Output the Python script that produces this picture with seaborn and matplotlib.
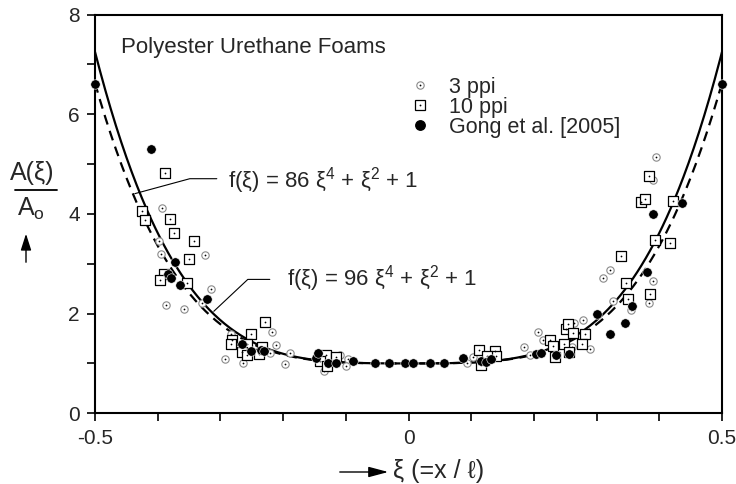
import numpy as np
import pandas as pd
import matplotlib
matplotlib.use("Agg")
import matplotlib.pyplot as plt
import seaborn as sns
from matplotlib.legend_handler import HandlerTuple
from matplotlib.lines import Line2D

# ---------------- data ----------------
ppi3_x = [-0.393, -0.398, -0.394, -0.325, -0.315, -0.329, -0.386, -0.358, -0.218, -0.283,
          -0.211, -0.221, -0.189, -0.293, -0.264, -0.197, -0.110, -0.134, -0.096, -0.099,
          -0.120, 0.103, 0.093, 0.185, 0.193, 0.207, 0.215, 0.260, 0.264, 0.290, 0.278,
          0.326, 0.355, 0.383, 0.390, 0.311, 0.321, 0.390, 0.394]
ppi3_y = [4.12, 3.45, 3.19, 3.17, 2.49, 2.21, 2.17, 2.10, 1.63, 1.59,
          1.38, 1.21, 1.21, 1.09, 1.01, 0.99, 1.17, 0.85, 1.08, 0.95,
          1.02, 1.12, 1.01, 1.32, 1.17, 1.63, 1.47, 1.33, 1.81, 1.29, 1.87,
          2.25, 2.07, 2.22, 2.65, 2.72, 2.88, 4.68, 5.15]

ppi10_x = [-0.388, -0.425, -0.420, -0.380, -0.374, -0.342, -0.350, -0.390, -0.396, -0.353,
           -0.229, -0.251, -0.282, -0.283, -0.258, -0.234, -0.265, -0.258, -0.238, -0.131,
           -0.141, -0.116, -0.130, 0.113, 0.138, 0.140, 0.125, 0.116, 0.226, 0.231,
           0.234, 0.248, 0.256, 0.251, 0.255, 0.263, 0.282, 0.277, 0.339, 0.347,
           0.350, 0.385, 0.393, 0.417, 0.371, 0.377, 0.422, 0.384]
ppi10_y = [4.82, 4.05, 3.88, 3.90, 3.61, 3.46, 3.10, 2.80, 2.67, 2.61,
           1.84, 1.60, 1.47, 1.39, 1.40, 1.32, 1.22, 1.16, 1.19, 1.17,
           1.05, 1.12, 0.95, 1.27, 1.25, 1.15, 1.15, 0.97, 1.48, 1.36,
           1.12, 1.39, 1.23, 1.70, 1.79, 1.62, 1.60, 1.39, 3.16, 2.62,
           2.30, 2.40, 3.48, 3.42, 4.23, 4.30, 4.25, 4.77]

gong_x = [-0.5, -0.411, -0.372, -0.383, -0.379, -0.364, -0.322, -0.265, -0.251, -0.235,
          -0.231, -0.148, -0.144, -0.128, -0.116, -0.088, -0.054, -0.031, -0.006, 0.007,
          0.034, 0.056, 0.087, 0.116, 0.124, 0.132, 0.203, 0.211, 0.236, 0.256,
          0.301, 0.321, 0.346, 0.357, 0.380, 0.390, 0.437, 0.5]
gong_y = [6.60, 5.31, 3.03, 2.80, 2.71, 2.57, 2.30, 1.40, 1.25, 1.27,
          1.24, 1.10, 1.21, 1.00, 1.01, 1.05, 1.00, 1.00, 1.00, 1.00,
          1.00, 1.00, 1.10, 1.05, 1.03, 1.08, 1.18, 1.21, 1.17, 1.19,
          2.00, 1.60, 1.82, 2.15, 2.83, 4.00, 4.21, 6.60]

fit_coef = [86, 96]            # f(xi) = c xi^4 + xi^2 + 1
fit_labels = ["f(ξ) = 86 ξ$\\mathregular{^4}$ + ξ$\\mathregular{^2}$ + 1",
              "f(ξ) = 96 ξ$\\mathregular{^4}$ + ξ$\\mathregular{^2}$ + 1"]
series_labels = ["3 ppi", "10 ppi", "Gong et al. [2005]"]
x_ticks = [-0.5, 0, 0.5]
x_ticklabels = ["-0.5", "0", "0.5"]
y_ticks = [0, 2, 4, 6, 8]

# ---------------- style ----------------
sns.set_theme(style="white")
plt.rcParams["font.family"] = ["Liberation Sans", "DejaVu Sans"]
plt.rcParams["mathtext.fontset"] = "custom"
plt.rcParams["mathtext.rm"] = "Liberation Sans"
plt.rcParams["mathtext.it"] = "Liberation Sans:italic"

fig = plt.figure(figsize=(7.36, 4.84), dpi=100)
W, H = 736, 484
ax = fig.add_axes([95 / W, 1 - 413.3 / H, 627 / W, (413.3 - 14.5) / H])

# ---------------- curves ----------------
xi = np.linspace(-0.5, 0.5, 601)
df86 = pd.DataFrame({"xi": xi, "f": fit_coef[0] * xi**4 + xi**2 + 1})
df96 = pd.DataFrame({"xi": xi, "f": fit_coef[1] * xi**4 + xi**2 + 1})
sns.lineplot(data=df96, x="xi", y="f", ax=ax, color="black", lw=1.6, sort=False, zorder=2)
sns.lineplot(data=df86, x="xi", y="f", ax=ax, color="black", lw=1.6, sort=False, zorder=2)
ax.lines[-1].set_dashes([4.5, 3])

# ---------------- points ----------------
ncol = len(ax.collections)
sns.scatterplot(x=ppi3_x, y=ppi3_y, ax=ax, marker="o", s=28, color="white",
                edgecolor="#8a8a8a", linewidth=0.8, zorder=3)
sns.scatterplot(x=ppi3_x, y=ppi3_y, ax=ax, marker="o", s=1.6, color="black",
                linewidth=0, zorder=3.1)
sns.scatterplot(x=ppi10_x, y=ppi10_y, ax=ax, marker="s", s=52, color="white",
                edgecolor="black", linewidth=0.9, zorder=4)
sns.scatterplot(x=ppi10_x, y=ppi10_y, ax=ax, marker="o", s=1.6, color="black",
                linewidth=0, zorder=4.1)
sns.scatterplot(x=gong_x, y=gong_y, ax=ax, marker="o", s=46, color="black",
                edgecolor="white", linewidth=0.4, zorder=5)
cols = ax.collections[ncol:]
for c in cols:
    c.set_clip_on(False)

dot = dict(marker="o", ms=1.3, color="black", ls="", mew=0)
h3 = (Line2D([], [], marker="o", ms=5.3, mfc="white", mec="#8a8a8a", mew=0.8, ls=""),
      Line2D([], [], **dot))
h10 = (Line2D([], [], marker="s", ms=7.2, mfc="white", mec="black", mew=0.9, ls=""),
       Line2D([], [], **dot))
hg = (Line2D([], [], marker="o", ms=6.8, mfc="black", mec="black", ls=""),)
leg = ax.legend([h3, h10, hg], series_labels,
                handler_map={tuple: HandlerTuple(ndivide=1, pad=0)},
                loc="upper left", bbox_to_anchor=((409 - 95) / 627, 1 - (77 - 14.5) / 399),
                frameon=False, fontsize=15.5, handlelength=1.0, handletextpad=0.85,
                labelspacing=-0.05, borderpad=0, borderaxespad=0, numpoints=1)

# ---------------- axes ----------------
ax.set_xlim(-0.5, 0.5)
ax.set_ylim(0, 8)
ax.set_xticks(x_ticks)
ax.set_xticklabels(x_ticklabels)
ax.set_xticks([-0.4, -0.3, -0.2, -0.1, 0.1, 0.2, 0.3, 0.4], minor=True)
ax.set_yticks(y_ticks)
ax.set_yticks([1, 3, 5, 7], minor=True)
ax.tick_params(which="both", direction="out", length=6, width=1.2, color="black",
               bottom=True, left=True, top=False, right=False)
ax.tick_params(which="major", labelsize=15, pad=5)
for s in ax.spines.values():
    s.set_visible(True)
    s.set_color("black")
    s.set_linewidth(1.5)
ax.set_xlabel("")
ax.set_ylabel("")
ax.grid(False)


def px(xp, yp):
    return ((xp - 408.7) / 627, (413.3 - yp) / 50)


# title
tx, ty = px(121, 46)
ax.text(tx, ty, "Polyester Urethane Foams", fontsize=16, ha="left", va="center")

# fit labels with pointer lines
for (lx, ly), lab, pts in [((228, 180), fit_labels[0], [(135, 193), (190, 178), (217, 178)]),
                           ((287, 278), fit_labels[1], [(214, 311), (248, 279), (270, 279)])]:
    x0, y0 = px(lx, ly)
    ax.text(x0, y0, lab, fontsize=16, ha="left", va="center")
    xs = [px(a, b)[0] for a, b in pts]
    ys = [px(a, b)[1] for a, b in pts]
    ax.plot(xs, ys, color="black", lw=0.8, zorder=6)

# y label: A(xi) / A_o with upward arrow
fig.text(32 / W, 1 - 173 / H, "A(ξ)", fontsize=18, ha="center", va="center")
fig.add_artist(plt.Line2D([15 / W, 57 / W], [1 - 190 / H, 1 - 190 / H], color="black", lw=1.3))
fig.text(31 / W, 1 - 209 / H, "A$\\mathregular{_o}$", fontsize=18, ha="center", va="center")
fig.add_artist(matplotlib.patches.FancyArrowPatch((26 / W, 1 - 265 / H), (26 / W, 1 - 231 / H),
               transform=fig.transFigure, arrowstyle="-|>,head_length=10,head_width=3.2",
               color="black", lw=1.0, mutation_scale=1))

# x label with arrow
fig.add_artist(matplotlib.patches.FancyArrowPatch((337 / W, 1 - 472 / H), (391 / W, 1 - 472 / H),
               transform=fig.transFigure, arrowstyle="-|>,head_length=12,head_width=3.2",
               color="black", lw=1.0, mutation_scale=1))
fig.text(393 / W, 1 - 471 / H, "ξ (=x / ℓ)", fontsize=18, ha="left", va="center")

fig.savefig("out.png", dpi=100)
